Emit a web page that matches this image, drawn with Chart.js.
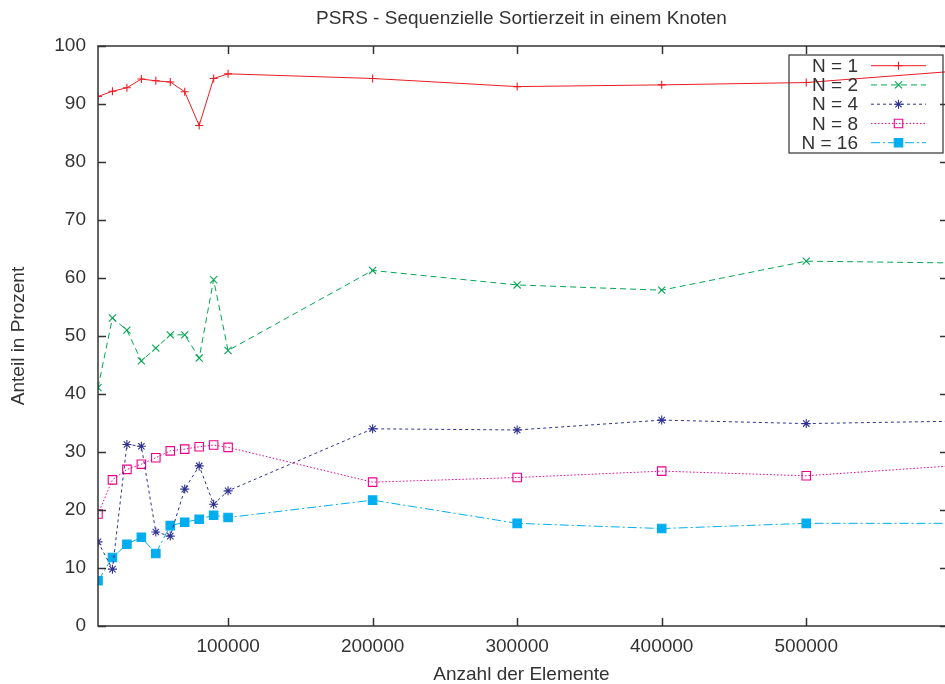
<!DOCTYPE html>
<html><head><meta charset="utf-8">
<script src="https://cdn.jsdelivr.net/npm/chart.js@4/dist/chart.umd.min.js"></script>
<style>html,body{margin:0;padding:0;background:#fff;overflow:hidden;width:945px;height:684px}canvas{display:block}</style>
</head><body><canvas id="c" width="945" height="684" style="width:945px;height:684px"></canvas>
<script>
const titleText = 'PSRS - Sequenzielle Sortierzeit in einem Knoten';
const xTitle = 'Anzahl der Elemente';
const yTitle = 'Anteil in Prozent';
const xValues = [10000,20000,30000,40000,50000,60000,70000,80000,90000,100000,200000,300000,400000,500000,600000];
const seriesLabels = ['N = 1','N = 2','N = 4','N = 8','N = 16'];
const n1  = [91.3,92.2,92.8,94.3,94.0,93.8,92.1,86.3,94.4,95.2,94.4,93.0,93.3,93.7,95.6];
const n2  = [41.1,53.1,51.0,45.7,47.9,50.2,50.2,46.2,59.7,47.5,61.3,58.8,57.9,62.9,62.6];
const n4  = [14.5,9.8,31.3,31.0,16.2,15.5,23.6,27.6,21.0,23.3,34.0,33.8,35.5,34.9,35.3];
const n8  = [19.3,25.2,27.0,27.9,29.0,30.2,30.5,30.9,31.2,30.8,24.8,25.6,26.7,25.9,27.6];
const n16 = [7.8,11.8,14.1,15.3,12.5,17.3,17.9,18.4,19.1,18.7,21.7,17.7,16.8,17.7,17.7];
const xTicks = [100000,200000,300000,400000,500000];
const yTicks = [0,10,20,30,40,50,60,70,80,90,100];
const xMin = 10000, xMax = 596000;

const seriesValues = [n1,n2,n4,n8,n16];
const styles = [
  {color:'#ed1c24', dash:[], point:'cross', r:4, fill:false},
  {color:'#00a651', dash:[6,4], point:'crossRot', r:5, fill:false},
  {color:'#2e3192', dash:[3,3], point:'star', r:4.5, fill:false},
  {color:'#ec008c', dash:[1.5,2], point:'rect', r:6, fill:false},
  {color:'#00aeef', dash:[9,3,2,3], point:'rect', r:6, fill:true}
];

const FONT = "'Liberation Sans', Arial, Helvetica, sans-serif";
const TXT = '#333333';

const datasets = seriesValues.map((vals, i) => ({
  label: seriesLabels[i],
  data: xValues.map((x, j) => ({x: x, y: vals[j]})),
  borderColor: styles[i].color,
  borderWidth: 1,
  borderDash: styles[i].dash,
  pointStyle: styles[i].point,
  pointRadius: styles[i].r,
  pointBorderWidth: 1.1,
  pointBorderColor: styles[i].color,
  pointBackgroundColor: styles[i].fill ? styles[i].color : 'rgba(0,0,0,0)',
  fill: false,
  tension: 0
}));

function drawMarker(ctx, st, x, y) {
  ctx.save();
  ctx.setLineDash([]);
  ctx.strokeStyle = st.color; ctx.fillStyle = st.color; ctx.lineWidth = 1.1;
  const r = st.r;
  ctx.beginPath();
  if (st.point === 'cross' || st.point === 'star') {
    ctx.moveTo(x - r, y); ctx.lineTo(x + r, y);
    ctx.moveTo(x, y - r); ctx.lineTo(x, y + r);
  }
  if (st.point === 'crossRot' || st.point === 'star') {
    const d = r * Math.SQRT1_2;
    ctx.moveTo(x - d, y - d); ctx.lineTo(x + d, y + d);
    ctx.moveTo(x - d, y + d); ctx.lineTo(x + d, y - d);
  }
  if (st.point === 'rect') {
    const s = r * Math.SQRT1_2;
    ctx.rect(x - s, y - s, 2 * s, 2 * s);
    if (st.fill) ctx.fill();
  }
  ctx.stroke();
  ctx.restore();
}

const framePlugin = {
  id: 'gnuplotFrame',
  afterDatasetsDraw(chart) {
    const {ctx, chartArea: a, scales} = chart;
    const xs = scales.x, ys = scales.y;
    ctx.save();
    ctx.strokeStyle = '#333'; ctx.lineWidth = 1.5; ctx.setLineDash([]);
    ctx.beginPath();
    ctx.moveTo(chart.width, a.top); ctx.lineTo(a.left, a.top);
    ctx.lineTo(a.left, a.bottom); ctx.lineTo(chart.width, a.bottom);
    ctx.stroke();
    ctx.beginPath();
    const tl = 8;
    xs.ticks.forEach(t => {
      const px = Math.round(xs.getPixelForValue(t.value)) + 0.5;
      ctx.moveTo(px, a.bottom); ctx.lineTo(px, a.bottom - tl);
      ctx.moveTo(px, a.top); ctx.lineTo(px, a.top + tl);
    });
    ys.ticks.forEach(t => {
      const py = Math.round(ys.getPixelForValue(t.value)) + 0.5;
      ctx.moveTo(a.left, py); ctx.lineTo(a.left + tl, py);
      ctx.moveTo(a.right, py); ctx.lineTo(a.right - 5, py);
    });
    ctx.stroke();

    // key box
    const boxRight = a.right - 2, boxLeft = boxRight - 154;
    const boxTop = a.top + 9, boxBottom = boxTop + 98;
    ctx.lineWidth = 1.2;
    ctx.strokeRect(boxLeft, boxTop, boxRight - boxLeft, boxBottom - boxTop);
    ctx.font = '19px ' + FONT;
    ctx.textAlign = 'right';
    ctx.textBaseline = 'middle';
    chart.data.datasets.forEach((ds, i) => {
      const y = boxTop + 10.7 + i * 19.25;
      ctx.fillStyle = TXT;
      ctx.fillText(ds.label, boxLeft + 69, y + 1);
      const st = styles[i];
      ctx.save();
      ctx.strokeStyle = st.color; ctx.lineWidth = 1; ctx.setLineDash(st.dash);
      ctx.beginPath();
      ctx.moveTo(boxLeft + 82, y); ctx.lineTo(boxLeft + 137, y);
      ctx.stroke();
      ctx.restore();
      drawMarker(ctx, st, boxLeft + 109.5, y);
    });
    ctx.restore();
  }
};

Chart.defaults.font.family = FONT;
Chart.defaults.color = TXT;

new Chart(document.getElementById('c'), {
  type: 'line',
  data: { datasets: datasets },
  plugins: [framePlugin],
  options: {
    responsive: false,
    animation: false,
    devicePixelRatio: 1,
    layout: { autoPadding: false, padding: { left: 0, right: 0, top: 0, bottom: 0 } },
    plugins: {
      legend: { display: false },
      tooltip: { enabled: false },
      title: {
        display: true, text: titleText, color: TXT, fullSize: false,
        font: { size: 19, weight: 'normal', lineHeight: 1.2 },
        padding: { top: 7, bottom: 16.2 }
      }
    },
    scales: {
      x: {
        type: 'linear', min: xMin, max: xMax,
        afterBuildTicks: s => { s.ticks = xTicks.map(v => ({value: v})); },
        afterFit: s => { s.height = 58; s.paddingLeft = 0; s.paddingRight = 0; },
        grid: { display: false, drawTicks: false },
        border: { display: false },
        ticks: { font: { size: 19 }, color: TXT, padding: 9, maxRotation: 0, autoSkip: false, callback: v => String(v) },
        title: { display: true, text: xTitle, color: TXT, font: { size: 19, lineHeight: 1.0 }, padding: { top: 0, bottom: 0 } }
      },
      y: {
        type: 'linear', min: 0, max: 100,
        afterBuildTicks: s => { s.ticks = yTicks.map(v => ({value: v})); },
        afterFit: s => { s.width = 98; s.paddingLeft = 0; s.paddingRight = 0; },
        grid: { display: false, drawTicks: false },
        border: { display: false },
        ticks: { font: { size: 19 }, color: TXT, padding: 12, autoSkip: false, callback: v => String(v) },
        title: { display: true, text: yTitle, color: TXT, font: { size: 19, lineHeight: 1.2 }, padding: { top: 7, bottom: 0 } }
      }
    }
  }
});
</script>
</body></html>
